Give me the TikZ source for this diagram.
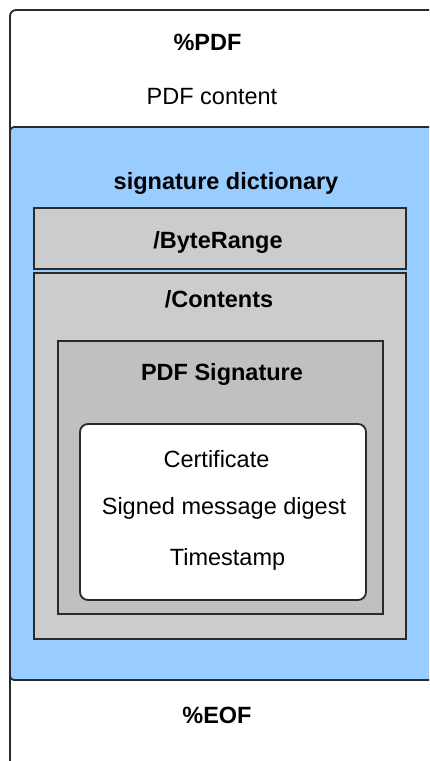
\documentclass[tikz,border=0pt]{standalone}
\usepackage{fontspec}
\setmainfont{Liberation Sans}
\definecolor{edge}{HTML}{2A2A2A}
\definecolor{sigblue}{HTML}{99CCFF}
\definecolor{boxgray}{HTML}{CCCCCC}
\definecolor{innergray}{HTML}{C0C0C0}
\begin{document}
\begin{tikzpicture}[x=1pt,y=-1pt,
  box/.style={draw=edge, line width=1.8pt, rectangle, inner sep=0pt, outer sep=0pt, anchor=north west},
  lbl/.style={inner sep=0pt, anchor=base, font=\fontsize{23.5}{27}\selectfont},
  hdr/.style={lbl, font=\fontsize{23.5}{27}\selectfont\bfseries}]
\useasboundingbox (0,0) rectangle (429,761);
\clip (0,0) rectangle (429,761);
% whole file
\node[box, fill=white, rounded corners=6pt, minimum width=440, minimum height=790] (file) at (10,10) {};
% signature dictionary
\node[box, fill=sigblue, rounded corners=4pt, minimum width=440, minimum height=553] (sigdict) at (10,127) {};
\node[box, fill=boxgray, minimum width=372, minimum height=61] (byterange) at (34,208) {};
\node[box, fill=boxgray, minimum width=372, minimum height=366] (contents) at (34,273) {};
\node[box, fill=innergray, minimum width=325, minimum height=273] (pdfsig) at (58,341) {};
\node[box, fill=white, rounded corners=8pt, minimum width=286, minimum height=176] (sigdata) at (80,424) {};
% labels
\node[hdr] (tpdf) at (207.5,50) {\%PDF};
\node[lbl] (tcontent) at (212,104) {PDF content};
\node[hdr] (tsigdict) at (226,189) {signature dictionary};
\node[hdr] (tbyterange) at (218,248) {/ByteRange};
\node[hdr] (tcontents) at (219,307) {/Contents};
\node[hdr] (tpdfsig) at (222,380) {PDF Signature};
\node[lbl] (tcert) at (216.5,467) {Certificate};
\node[lbl] (tdigest) at (224,514) {Signed message digest};
\node[lbl] (tstamp) at (227.5,565) {Timestamp};
\node[hdr] (teof) at (217,723) {\%EOF};
\end{tikzpicture}
\end{document}
